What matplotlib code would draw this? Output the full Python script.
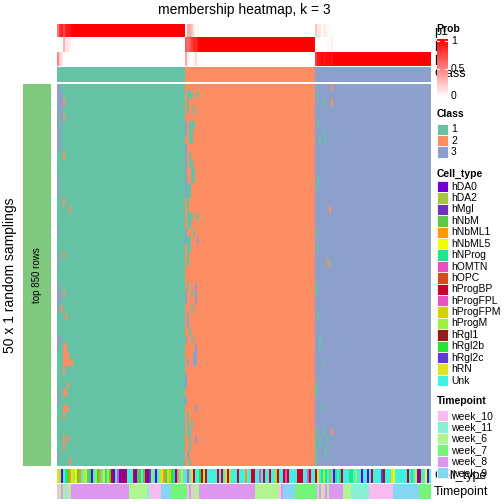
import numpy as np
import matplotlib
matplotlib.use("Agg")
import matplotlib.pyplot as plt
from matplotlib.colors import ListedColormap, LinearSegmentedColormap
from matplotlib.patches import Rectangle

plt.rcParams['font.family'] = ['Liberation Sans', 'DejaVu Sans']

# ---- data ----
n_samplings = 50
class_names = ['1', '2', '3']
class_colors = ['#66C2A5', '#FC8D62', '#8DA0CB']
class_sizes = [64, 65, 58]

# (column, first row, last row, class) where a sampling disagrees with the consensus
switches = [
    # class 1 block
    (0, 0, 8, 3), (1, 0, 3, 3), (2, 1, 5, 3), (1, 6, 8, 3), (0, 12, 14, 3), (0, 19, 19, 3),
    (0, 22, 23, 3), (0, 26, 29, 3), (1, 27, 28, 3), (0, 33, 34, 3), (1, 33, 33, 3),
    (0, 40, 41, 3), (0, 48, 48, 3),
    (3, 2, 2, 2), (3, 4, 4, 2), (3, 9, 9, 2), (3, 15, 15, 2), (6, 16, 16, 2), (3, 22, 22, 2),
    (3, 27, 27, 2), (2, 29, 29, 2), (4, 30, 30, 2), (3, 34, 34, 2), (4, 34, 34, 2),
    (3, 35, 35, 2), (4, 35, 35, 2), (5, 35, 35, 2), (3, 36, 36, 2), (4, 36, 36, 2),
    (5, 36, 36, 2), (6, 36, 36, 2), (7, 36, 36, 2), (3, 37, 37, 2), (5, 39, 39, 2),
    (3, 40, 40, 2), (4, 40, 40, 2), (3, 42, 42, 2), (4, 42, 42, 2), (5, 42, 42, 2),
    (3, 43, 43, 2), (3, 46, 47, 2), (5, 46, 46, 2), (6, 49, 49, 2),
    # class 2 block
    (65, 1, 1, 1), (66, 1, 1, 1), (67, 1, 1, 1), (70, 1, 1, 1), (65, 2, 3, 1), (68, 3, 3, 1),
    (64, 5, 6, 3), (66, 5, 5, 1), (67, 5, 5, 1), (68, 5, 5, 1), (66, 6, 7, 1), (67, 6, 7, 1),
    (64, 8, 10, 3), (66, 9, 10, 1), (67, 10, 10, 1), (67, 11, 12, 1), (68, 11, 12, 1),
    (64, 11, 14, 3), (65, 13, 14, 1), (66, 13, 14, 1), (65, 15, 16, 1), (65, 17, 18, 1),
    (66, 17, 18, 1), (67, 17, 17, 1), (70, 17, 17, 1), (64, 19, 20, 3), (68, 19, 19, 1),
    (65, 20, 21, 1), (66, 20, 21, 1), (70, 20, 20, 3), (65, 22, 23, 1),
    (65, 26, 26, 1), (69, 26, 26, 3), (64, 27, 28, 3), (67, 27, 27, 1), (69, 27, 28, 3),
    (67, 29, 29, 1), (65, 30, 31, 3), (66, 32, 32, 1), (64, 33, 33, 3), (67, 33, 33, 1),
    (69, 34, 36, 3), (68, 35, 36, 3), (65, 36, 36, 3), (64, 38, 39, 3), (64, 41, 41, 3),
    (69, 42, 42, 3), (65, 43, 45, 1), (67, 44, 44, 1), (69, 46, 46, 3), (65, 48, 48, 3),
    (66, 49, 49, 1), (66, 45, 47, 1),
    # class 3 block
    (137, 0, 0, 2), (130, 1, 1, 1), (133, 2, 2, 1), (137, 2, 2, 2), (130, 5, 5, 1),
    (133, 6, 6, 1), (131, 7, 7, 1), (134, 7, 7, 1), (130, 12, 12, 1), (129, 13, 13, 1),
    (136, 16, 16, 2), (129, 19, 19, 1), (130, 21, 21, 1), (136, 23, 23, 1), (135, 23, 23, 2),
    (129, 26, 27, 1), (130, 30, 30, 1), (131, 33, 34, 1), (133, 36, 36, 1), (129, 39, 40, 1),
    (132, 42, 42, 1), (129, 45, 49, 1), (131, 46, 47, 1), (133, 45, 45, 1), (134, 47, 48, 1),
    (135, 46, 46, 1), (137, 45, 45, 2),
]

cell_types = ['hDA0', 'hDA2', 'hMgl', 'hNbM', 'hNbML1', 'hNbML5', 'hNProg', 'hOMTN', 'hOPC',
              'hProgBP', 'hProgFPL', 'hProgFPM', 'hProgM', 'hRgl1', 'hRgl2b', 'hRgl2c', 'hRN', 'Unk']
cell_type_codes = 'abcdefghijklmnopqu'
cell_type_colors = ['#7400D8', '#A6C43C', '#7330BE', '#5CC84A', '#FF9612', '#F0FF00', '#1EE68C',
                    '#E650BE', '#D84B1C', '#C8002E', '#E654C4', '#D2D200', '#A0F044', '#961A18',
                    '#24E232', '#6038D8', '#E2E224', '#40F0E0']
cell_type_per_column = ''.join([
    'qmaugoeqmf', 'deumqgdaum', 'oeuqgmdjau', 'hajajuuuja', 'ddudjapmua', 'umqedmloga', 'euqu',
    'uhuqjuuojm', 'juuuuujuju', 'qjmuuujuuu', 'euujjuuhuj', 'uujuuljuuj', 'hjuuuujjju', 'ukjuu',
    'jqugmgubua', 'gugjuuuggu', 'muuauuauju', 'uuupnuuuqf', 'uuuuuujugu', 'qajuufau',
])

timepoints = ['week_10', 'week_11', 'week_6', 'week_7', 'week_8', 'week_9']
timepoint_colors = ['#F9BBEF', '#86F2D5', '#B0F590', '#73F57B', '#DE97EE', '#84D6F2']
# runs of (timepoint index, number of columns)
timepoint_runs = [
    (0, 1), (2, 1), (4, 1), (2, 1), (1, 1), (0, 1), (2, 1), (4, 29), (2, 9), (1, 1),
    (0, 6), (5, 5), (3, 7),
    (3, 1), (0, 1), (4, 1), (2, 1), (0, 1), (2, 2), (4, 28), (2, 12), (0, 1), (4, 1),
    (5, 6), (3, 10),
    (3, 1), (0, 1), (4, 1), (2, 1), (0, 1), (4, 1), (2, 1), (4, 1), (4, 6), (2, 4),
    (1, 9), (0, 12), (5, 13), (3, 6),
]

# ---- build matrices ----
col_class = np.repeat([1, 2, 3], class_sizes)
M = np.tile(col_class, (n_samplings, 1))
for col, r0, r1, k in switches:
    M[r0:r1 + 1, col] = k
P = np.stack([(M == k).mean(axis=0) for k in (1, 2, 3)])
ct = np.array([cell_type_codes.index(c) for c in cell_type_per_column])[None, :]
tp = np.concatenate([[i] * n for i, n in timepoint_runs])[None, :]

W = H = 504
fig = plt.figure(figsize=(5.04, 5.04), dpi=100)


def px_axes(x0, y0, x1, y1):
    ax = fig.add_axes([x0 / W, 1 - y1 / H, (x1 - x0) / W, (y1 - y0) / H])
    ax.set_axis_off()
    return ax


reds = LinearSegmentedColormap.from_list('prob', ['#FFFFFF', '#FF0000'])
cls_cmap = ListedColormap(class_colors)
hx0, hx1 = 57, 431

ax = px_axes(hx0, 24, hx1, 66.3)
ax.imshow(P, cmap=reds, vmin=0, vmax=1, aspect='auto', interpolation='nearest')
ax = px_axes(hx0, 66.7, hx1, 81.7)
ax.imshow(col_class[None, :], cmap=cls_cmap, vmin=0.5, vmax=3.5, aspect='auto', interpolation='nearest')
ax = px_axes(hx0, 83.5, hx1, 466)
ax.imshow(M, cmap=cls_cmap, vmin=0.5, vmax=3.5, aspect='auto', interpolation='nearest')
ax = px_axes(23, 83.5, 51, 466)
ax.add_patch(Rectangle((0, 0), 1, 1, color='#7FC97F'))
ax = px_axes(hx0, 468.5, hx1, 482.8)
ax.imshow(ct, cmap=ListedColormap(cell_type_colors), vmin=-0.5, vmax=len(cell_types) - 0.5,
          aspect='auto', interpolation='nearest')
ax = px_axes(hx0, 484, hx1, 499)
ax.imshow(tp, cmap=ListedColormap(timepoint_colors), vmin=-0.5, vmax=len(timepoints) - 0.5,
          aspect='auto', interpolation='nearest')

# overlay for text and legends, pixel coordinates
ov = fig.add_axes([0, 0, 1, 1])
ov.set_axis_off()
ov.patch.set_alpha(0)

ov.text(244, 10, 'membership heatmap, k = 3', ha='center', va='center', fontsize=10)
ov.text(10, 275, '50 x 1 random samplings', rotation=90, ha='center', va='center', fontsize=10)
ov.text(37, 275, 'top 850 rows', rotation=90, ha='center', va='center', fontsize=7)
for lab, y in zip(['p1', 'p2', 'p3', 'Class'], [32, 45, 59, 74]):
    ov.text(434, y, lab, ha='left', va='center', fontsize=9, zorder=1)
ov.text(434, 476, 'Cell_type', ha='left', va='center', fontsize=9, zorder=1)
ov.text(434, 492, 'Timepoint', ha='left', va='center', fontsize=9, zorder=1)

lx, sw, step = 436.5, 11, 11.4
# Prob colour bar
ov.text(lx, 29.5, 'Prob', ha='left', va='center', fontsize=7.5, fontweight='bold', zorder=4)
grad = np.linspace(1, 0, 120).reshape(-1, 1)
ov.imshow(grad, cmap=reds, extent=(lx, lx + sw, 97, 39), aspect='auto', zorder=3)
for v in [0.5, 1]:
    y = 96 - 55 * v
    ov.plot([lx, lx + 2.5], [y, y], color='white', lw=0.8, zorder=4)
    ov.plot([lx + sw - 2.5, lx + sw], [y, y], color='white', lw=0.8, zorder=4)
for v, lab in [(1, '1'), (0.5, '0.5'), (0, '0')]:
    ov.text(lx + sw + 3.5, 96 - 55 * v, lab, ha='left', va='center', fontsize=7.5, zorder=4)


def legend_block(title, title_y, names, colors, y0):
    ov.text(lx, title_y, title, ha='left', va='center', fontsize=7.5, fontweight='bold', zorder=4)
    for i, (nm, c) in enumerate(zip(names, colors)):
        y = y0 + i * step
        ov.add_patch(Rectangle((lx, y), sw, step, facecolor=c, edgecolor='white', lw=0.6, zorder=3))
        ov.text(lx + sw + 3.5, y + step / 2, nm, ha='left', va='center', fontsize=7.5, zorder=4)


legend_block('Class', 114, class_names, class_colors, 123.5)
legend_block('Cell_type', 173.5, cell_types, cell_type_colors, 181)
legend_block('Timepoint', 401, timepoints, timepoint_colors, 410)

ov.set_xlim(0, W)
ov.set_ylim(H, 0)

fig.savefig('out.png', dpi=100)
